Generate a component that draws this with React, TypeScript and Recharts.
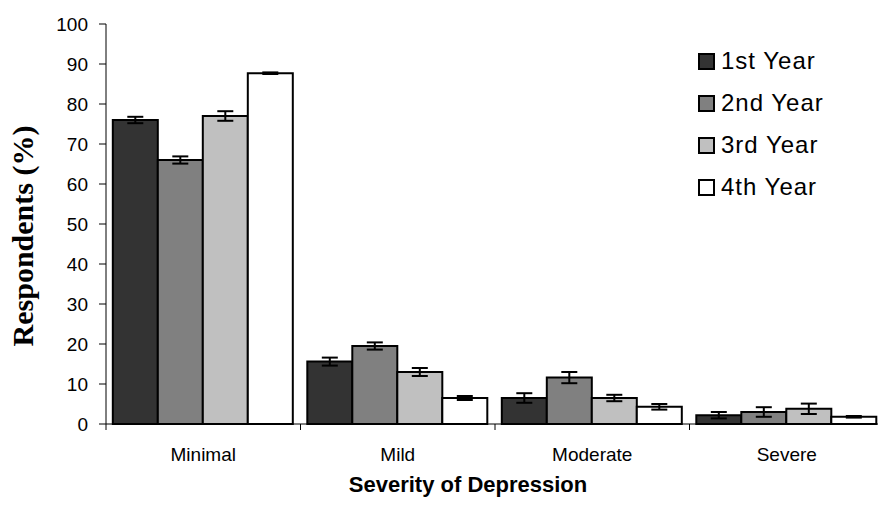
import React from 'react';
import { BarChart, Bar, XAxis, YAxis, ErrorBar, Legend, Label } from 'recharts';

const categories = ['Minimal', 'Mild', 'Moderate', 'Severe'];
const year1 = [76, 15.6, 6.5, 2.2];
const year2 = [66, 19.5, 11.6, 3];
const year3 = [77, 13, 6.5, 3.8];
const year4 = [87.7, 6.5, 4.3, 1.8];
const err1 = [0.8, 1, 1.2, 0.8];
const err2 = [0.9, 0.9, 1.4, 1.2];
const err3 = [1.2, 1, 0.8, 1.3];
const err4 = [0.2, 0.5, 0.7, 0.2];
const yTicks = [0, 10, 20, 30, 40, 50, 60, 70, 80, 90, 100];

const seriesNames = ['1st Year', '2nd Year', '3rd Year', '4th Year'];
const seriesColors = ['#333333', '#808080', '#C0C0C0', '#FFFFFF'];

const data = categories.map((c, i) => ({
  name: c,
  y1: year1[i],
  y2: year2[i],
  y3: year3[i],
  y4: year4[i],
  e1: err1[i],
  e2: err2[i],
  e3: err3[i],
  e4: err4[i],
}));

const FONT = '"Liberation Sans", Arial, sans-serif';

const XTick = (props: any) => {
  const { x, y, payload } = props;
  const half = payload && typeof payload.offset === 'number' ? payload.offset : 0;
  return (
    <g>
      <line x1={x - half} y1={y} x2={x - half} y2={y + 6} stroke="#000" strokeWidth={1} />
      <text x={x} y={y + 37} textAnchor="middle" fontFamily={FONT} fontSize={19} fill="#000">
        {payload.value}
      </text>
    </g>
  );
};

const LegendContent = (props: any) => {
  const { payload } = props;
  return (
    <div style={{ fontFamily: FONT, fontSize: 24, color: '#000' }}>
      {(payload || []).map((p: any, i: number) => (
        <div key={i} style={{ display: 'flex', alignItems: 'center', height: 42, letterSpacing: 1 }}>
          <span
            style={{
              display: 'inline-block',
              width: 13,
              height: 13,
              border: '2px solid #000',
              background: p.color,
              marginRight: 6,
            }}
          />
          <span>{p.value}</span>
        </div>
      ))}
    </div>
  );
};

export default function App() {
  const bars = [
    { key: 'y1', err: 'e1' },
    { key: 'y2', err: 'e2' },
    { key: 'y3', err: 'e3' },
    { key: 'y4', err: 'e4' },
  ];
  return (
    <div style={{ position: 'fixed', left: 0, top: 0, width: 878, height: 514, overflow: 'hidden', background: '#fff' }}>
      <BarChart
        width={900}
        height={514}
        data={data}
        margin={{ top: 24, right: 16, bottom: 0, left: 0 }}
        barGap={0}
        barCategoryGap="3.5%"
      >
        <XAxis
          dataKey="name"
          height={90}
          axisLine={{ stroke: '#000', strokeWidth: 1 }}
          tickLine={false}
          tickSize={0}
          tickMargin={0}
          tick={<XTick />}
          interval={0}
        >
          <Label
            content={() => (
              <text x={468} y={492} textAnchor="middle" fontFamily={FONT} fontWeight="bold" fontSize={22} fill="#000">
                Severity of Depression
              </text>
            )}
          />
        </XAxis>
        <YAxis
          width={106}
          domain={[0, 100]}
          ticks={yTicks}
          interval={0}
          axisLine={{ stroke: '#000', strokeWidth: 1 }}
          tickLine={{ stroke: '#000', strokeWidth: 1 }}
          tickSize={7}
          tickMargin={11}
          tick={{ fontFamily: FONT, fontSize: 19, fill: '#000' }}
        >
          <Label
            content={() => (
              <text
                x={33}
                y={236}
                transform="rotate(-90, 33, 236)"
                textAnchor="middle"
                fontFamily='"Liberation Serif", "Times New Roman", serif'
                fontWeight="bold"
                fontSize={30}
                fill="#000"
              >
                Respondents (%)
              </text>
            )}
          />
        </YAxis>
        <Legend
          layout="vertical"
          align="center"
          verticalAlign="middle"
          content={<LegendContent />}
          wrapperStyle={{ left: 698, top: 40, width: 170, height: 170 }}
        />
        {bars.map((b, i) => (
          <Bar
            key={b.key}
            dataKey={b.key}
            name={seriesNames[i]}
            fill={seriesColors[i]}
            stroke="#000"
            strokeWidth={2}
            isAnimationActive={false}
          >
            <ErrorBar dataKey={b.err} width={8} stroke="#000" strokeWidth={2} direction="y" />
          </Bar>
        ))}
      </BarChart>
    </div>
  );
}
